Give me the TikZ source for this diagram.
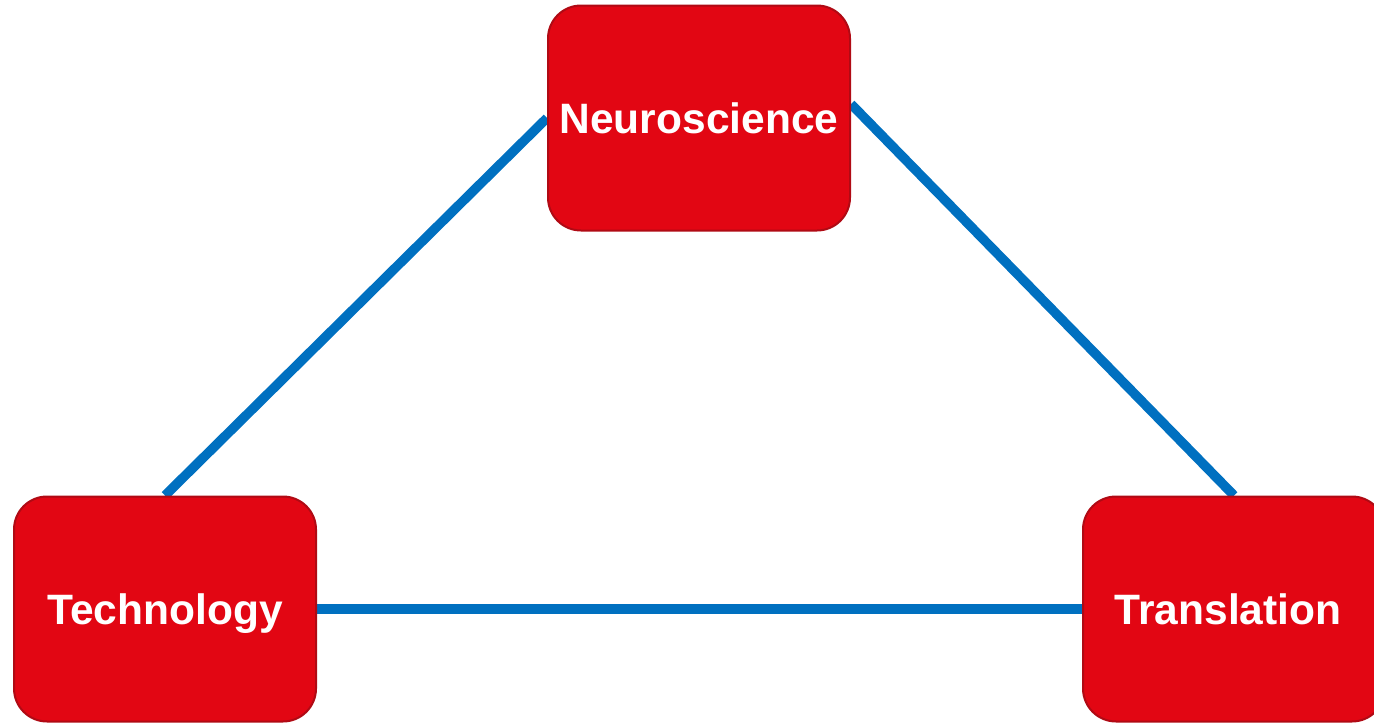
\documentclass[tikz,border=0pt]{standalone}
\usepackage{fontspec}
\setmainfont{Liberation Sans}
\usetikzlibrary{backgrounds}
\definecolor{boxred}{HTML}{E20613}
\definecolor{boxedge}{HTML}{B00A14}
\definecolor{linkblue}{HTML}{0070C0}
\tikzset{
  topic/.style={draw=boxedge,line width=2pt,fill=boxred,rounded corners=33pt,
    minimum width=302pt,minimum height=225pt,inner sep=0pt,
    text height=31pt,text depth=0pt,
    text=white,font=\fontsize{42.5}{50}\selectfont\bfseries},
  link/.style={draw=linkblue,line width=9.5pt}
}
\begin{document}
\begin{tikzpicture}[x=1pt,y=-1pt]
    \useasboundingbox (0,0) rectangle (1374,723);
    \node[topic] (neuro) at (699,118) {Neuroscience};
    \node[topic] (tech) at (165,609) {Technology};
    \node[topic] (trans) at (1234,609) {Translation\hspace*{12pt}};
    % links between the three areas, behind the boxes
    \begin{scope}[on background layer]
      \draw[link] (tech.north) -- (neuro.west);
      \draw[link] ([yshift=14pt]neuro.east) -- (trans.north);
      \draw[link] (tech.east) -- (trans.west);
    \end{scope}
\end{tikzpicture}
\end{document}
